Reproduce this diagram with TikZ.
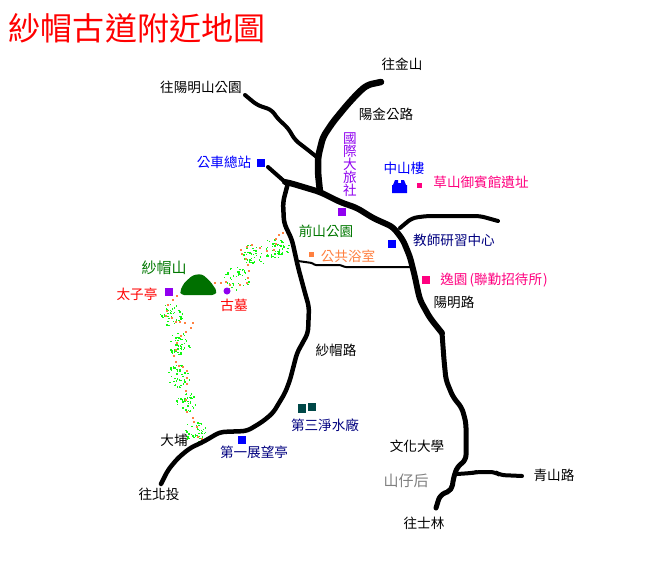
\documentclass[tikz,border=0pt]{standalone}
\usepackage{fontspec}
\setmainfont{Noto Sans CJK TC}
\newfontfamily\titlefont{Noto Sans CJK TC}
\definecolor{pinkc}{HTML}{FF0080}
\definecolor{purplec}{HTML}{9000F0}
\definecolor{navyc}{HTML}{000080}
\definecolor{bluec}{HTML}{0000FF}
\definecolor{greenc}{HTML}{007800}
\definecolor{orangec}{HTML}{FF8040}
\definecolor{tealc}{HTML}{004848}
\definecolor{dotgreen}{HTML}{10F810}
\definecolor{mountc}{HTML}{007000}
\tikzset{
  road/.style={draw=black,line join=round,line cap=round,rounded corners=5pt},
  lbl/.style={font=\fontsize{13.6}{14}\selectfont,inner sep=0pt,text=black},
  mark8/.style={minimum size=8.5pt,inner sep=0pt,fill=#1},
  mark5/.style={minimum size=5pt,inner sep=0pt,fill=#1},
}
\begin{document}
\begin{tikzpicture}[x=1pt,y=-1pt]
\useasboundingbox[fill=white] (0,0) rectangle (652,562);
% green scrub
\foreach \cx/\cy/\rx/\ry/\n in {277/248/13/11/60,255/255/14/11/60,237/279/13/12/55,171/315/12/11/50,179/344/12/12/55,178/377/12/12/55,187/403/11/11/45,196/432/12/11/50}{
  \foreach \i in {1,...,\n}{
    \pgfmathsetmacro{\dx}{mod(\i*\i*3+\i*37+\cx,101)/50-1}
    \pgfmathsetmacro{\dy}{mod(mod(\i*\i,103)*\i+\i*5+\cy,103)/51-1}
    \pgfmathsetmacro{\op}{(\dx*\dx+\dy*\dy<1)?1:0}
    \fill[dotgreen,opacity=\op] (\cx+\dx*\rx-0.7,\cy+\dy*\ry-0.7) rectangle ++(1.4,1.4);
  }
}
% orange trail
\foreach \zx/\zy in {460/40,447/45,437/58,437/72,433/90,410/92,390/85,365/75,350/80,333/90,337/102,347/118,355/135,357/153,355/175,350/190,330/195,300/195,288/187,272/188,255/190,142/228,128/240,115/255,110/272,108/288,125/295,137/305,150/307,165/310,188/309,182/325,168/335,153/348,140/370,137/390,133/408,138/425,147/437,158/440,172/452,172/475,172/492,167/513,167/540,172/575,188/595,193/607,200/622,205/650,217/657}{
  \fill[orangec] ({130+\zx/3-1},{220+\zy/3-1}) rectangle ++(2,2);
}
% roads
\draw[road,line width=6.5pt] (381,82) -- (367,85) -- (358,93) -- (347,105) -- (333,122) -- (323,137) -- (318,157) -- (318,173) -- (320,192);
\draw[road,line width=4pt] (245,95) -- (257,105) -- (272,110) -- (277,118) -- (288,128) -- (295,140) -- (308,150) -- (318,158);
\draw[road,line width=4pt] (268,167) -- (285,182);
\draw[road,line width=6pt] (285,182) -- (290,183) -- (320,192) -- (340,202) -- (357,208) -- (373,218) -- (393,227) -- (403,240) -- (410,257) -- (415,277) -- (417,287) -- (420,300) -- (430,318) -- (442,333);
\draw[road,line width=5pt] (442,333) -- (444,360) -- (446,380) -- (453,397) -- (462,408) -- (466,423) -- (466,460) -- (457,467) -- (453,480) -- (452,490) -- (440,495) -- (436,508);
\draw[road,line width=4pt] (457,474) -- (472,473) -- (477,472) -- (495,472) -- (500,475) -- (522,476);
\draw[road,line width=4pt] (400,228) -- (412,218) -- (427,216) -- (480,216) -- (498,221);
\draw[road,line width=4.5pt] (288,183) -- (283,202) -- (284,223) -- (292,240) -- (298,267) -- (305,293) -- (309,307) -- (308,333) -- (297,353) -- (290,380) -- (285,393) -- (273,413) -- (262,422) -- (247,431) -- (220,432) -- (203,442) -- (190,448) -- (178,458) -- (168,470) -- (161,484);
\draw[road,line width=2pt,rounded corners=1pt] (298,261) -- (312,263) -- (315,265) -- (340,265) -- (345,267) -- (412,267);
% mountain
\fill[mountc,rounded corners=3pt] (180,291) -- (184,283) -- (193,275) -- (202,274) -- (210,281) -- (217,291) -- (215,295) -- (181,295) -- cycle;
% markers
\node[mark8=bluec] (busm) at (261,163) {};
\node[mark8=purplec] (hotelm) at (342,212) {};
\node[mark8=bluec] (teachm) at (392,244) {};
\node[mark8=pinkc] (yim) at (426,280) {};
\node[mark8=bluec] (viewm) at (242,440) {};
\node[mark8=tealc] (w1) at (302,408.5) {};
\node[mark8=tealc] (w2) at (312,407) {};
\node[mark8=purplec] (pavm) at (169,292) {};
\node[mark5=pinkc] (caom) at (419.5,185) {};
\node[mark5=orangec] (bathm) at (311,254) {};
\fill[purplec] (227,291) circle (3.5);
\fill[bluec] (392,193) rectangle (407,185) (393,185) -- (395,180) -- (398,180) -- (398,183) -- (401,183) -- (401,180) -- (404,180) -- (406,185) -- cycle;
% title
\node[inner sep=0pt,text=red,font=\titlefont\fontsize{32}{33}\selectfont] (title) at (137,28) {紗帽古道附近地圖};
% labels
\node[lbl] (l1) at (402,64) {往金山};
\node[lbl] (l2) at (201,87) {往陽明山公園};
\node[lbl] (l3) at (386,114) {陽金公路};
\node[lbl,text=purplec,align=center] (l4) at (350,165) {\baselineskip=13pt 國\\[-1pt]際\\[-1pt]大\\[-1pt]旅\\[-1pt]社};
\node[lbl,text=bluec] (l5) at (224,162) {公車總站};
\node[lbl,text=bluec] (l6) at (404,168) {中山樓};
\node[lbl,text=pinkc] (l7) at (481,182) {草山御賓館遺址};
\node[lbl,text=greenc] (l8) at (326,231) {前山公園};
\node[lbl,text=orangec] (l9) at (348,256) {公共浴室};
\node[lbl,text=navyc] (l10) at (454,240) {教師研習中心};
\node[lbl,text=pinkc] (l11) at (494,280) {逸園\kern2pt(聯勤招待所\kern1pt)};
\node[lbl] (l12) at (454,302) {陽明路};
\node[lbl] (l13) at (336,350) {紗帽路};
\node[lbl,text=greenc,font=\fontsize{15}{16}\selectfont] (l14) at (164,268) {紗帽山};
\node[lbl,text=red] (l15) at (137,294) {太子亭};
\node[lbl,text=red] (l16) at (234,305) {古墓};
\node[lbl] (l17) at (174,440) {大埔};
\node[lbl,text=navyc] (l18) at (254,452) {第一展望亭};
\node[lbl,text=navyc] (l19) at (325,425) {第三淨水廠};
\node[lbl] (l20) at (417,446) {文化大學};
\node[lbl,text=gray,font=\fontsize{15}{16}\selectfont] (l21) at (406,481) {山仔后};
\node[lbl] (l22) at (554,475) {青山路};
\node[lbl] (l23) at (424,523) {往士林};
\node[lbl] (l24) at (159,494) {往北投};
\end{tikzpicture}
\end{document}
